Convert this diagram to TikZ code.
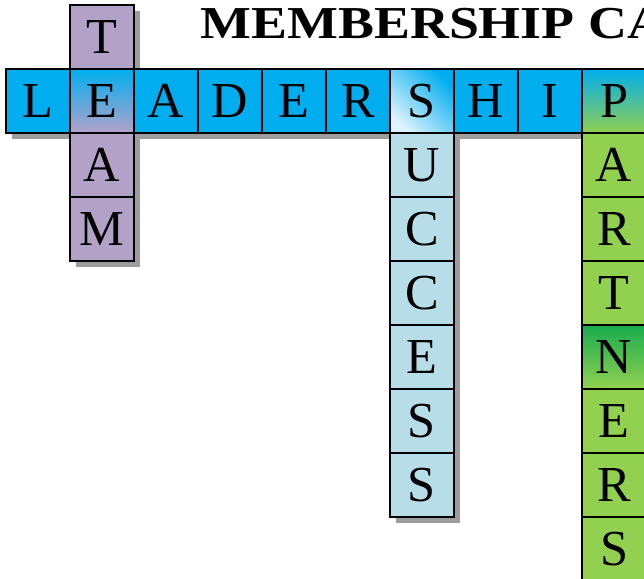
\documentclass[tikz,border=0pt]{standalone}
\usepackage{fontspec}
\setmainfont{Liberation Serif}
\usepackage{tikz}
\usetikzlibrary{positioning,backgrounds}

\definecolor{leadcyan}{HTML}{00AEEF}
\definecolor{teampurple}{HTML}{B3A2C8}
\definecolor{succblue}{HTML}{B7DEE8}
\definecolor{succpale}{HTML}{DDF3FD}
\definecolor{partgreen}{HTML}{92D050}
\definecolor{partdark}{HTML}{18AC50}
\definecolor{shadowgray}{HTML}{9C9C9C}

\begin{document}
\begin{tikzpicture}[node distance=0pt
  ,semithick]
  \tikzstyle{cell}=[draw, line width=1.4pt, outer sep=0pt, inner sep=0pt,
  minimum size=1.92cm, font=\fontsize{43}{43}\selectfont]
  \tikzstyle{lead}=[cell, fill=leadcyan]
  \tikzstyle{team}=[cell, fill=teampurple]
  \tikzstyle{succ}=[cell, fill=succblue]
  \tikzstyle{part}=[cell, fill=partgreen]
  \tikzstyle{wordshadow}=[fill=shadowgray, draw=none]

  \useasboundingbox (0,0) rectangle (19.32,17.34);
  \clip (0,0) rectangle (19.32,17.34);

  % title, runs off the right edge
  \node[anchor=base west, inner sep=0pt, xscale=1.18,
  font=\bfseries\fontsize{39}{39}\selectfont] (title) at (6.0,16.17)
  {MEMBERSHIP CA};

  % across: leadership
  \node[lead] (ld1) at (1.14,14.31) {L};
  \node[cell, top color=leadcyan, bottom color=teampurple,
  right=of ld1] (ld2) {E};
  \node[lead, right=of ld2] (ld3) {A};
  \node[lead, right=of ld3] (ld4) {D};
  \node[lead, right=of ld4] (ld5) {E};
  \node[lead, right=of ld5] (ld6) {R};
  \node[cell, top color=leadcyan, bottom color=succpale, shading angle=-45,
  right=of ld6] (ld7) {S};
  \node[lead, right=of ld7] (ld8) {H};
  \node[lead, right=of ld8] (ld9) {I};
  \node[cell, top color=leadcyan, bottom color=partgreen,
  right=of ld9] (ld10) {P};

  % down: team
  \node[team, above=of ld2] (tm1) {T};
  \node[team, below=of ld2] (tm3) {A};
  \node[team, below=of tm3] (tm4) {M};

  % down: success
  \node[succ, below=of ld7] (sc2) {U};
  \node[succ, below=of sc2] (sc3) {C};
  \node[succ, below=of sc3] (sc4) {C};
  \node[succ, below=of sc4] (sc5) {E};
  \node[succ, below=of sc5] (sc6) {S};
  \node[succ, below=of sc6] (sc7) {S};

  % down: partners
  \node[part, below=of ld10] (pt2) {A};
  \node[part, below=of pt2] (pt3) {R};
  \node[part, below=of pt3] (pt4) {T};
  \node[cell, top color=partdark, bottom color=partgreen,
  below=of pt4] (pt5) {N};
  \node[part, below=of pt5] (pt6) {E};
  \node[part, below=of pt6] (pt7) {R};
  \node[part, below=of pt7] (pt8) {S};

  % drop shadows behind each word
  \begin{scope}[on background layer]
    \path[wordshadow] ([shift={(0.18,-0.18)}]ld1.north west)
    rectangle ([shift={(0.18,-0.18)}]ld10.south east);
    \path[wordshadow] ([shift={(0.18,-0.18)}]tm1.north west)
    rectangle ([shift={(0.18,-0.18)}]tm4.south east);
    \path[wordshadow] ([shift={(0.18,-0.18)}]ld7.north west)
    rectangle ([shift={(0.18,-0.18)}]sc7.south east);
    \path[wordshadow] ([shift={(0.18,-0.18)}]ld10.north west)
    rectangle ([shift={(0.18,-0.18)}]pt8.south east);
  \end{scope}

\end{tikzpicture}
\end{document}
